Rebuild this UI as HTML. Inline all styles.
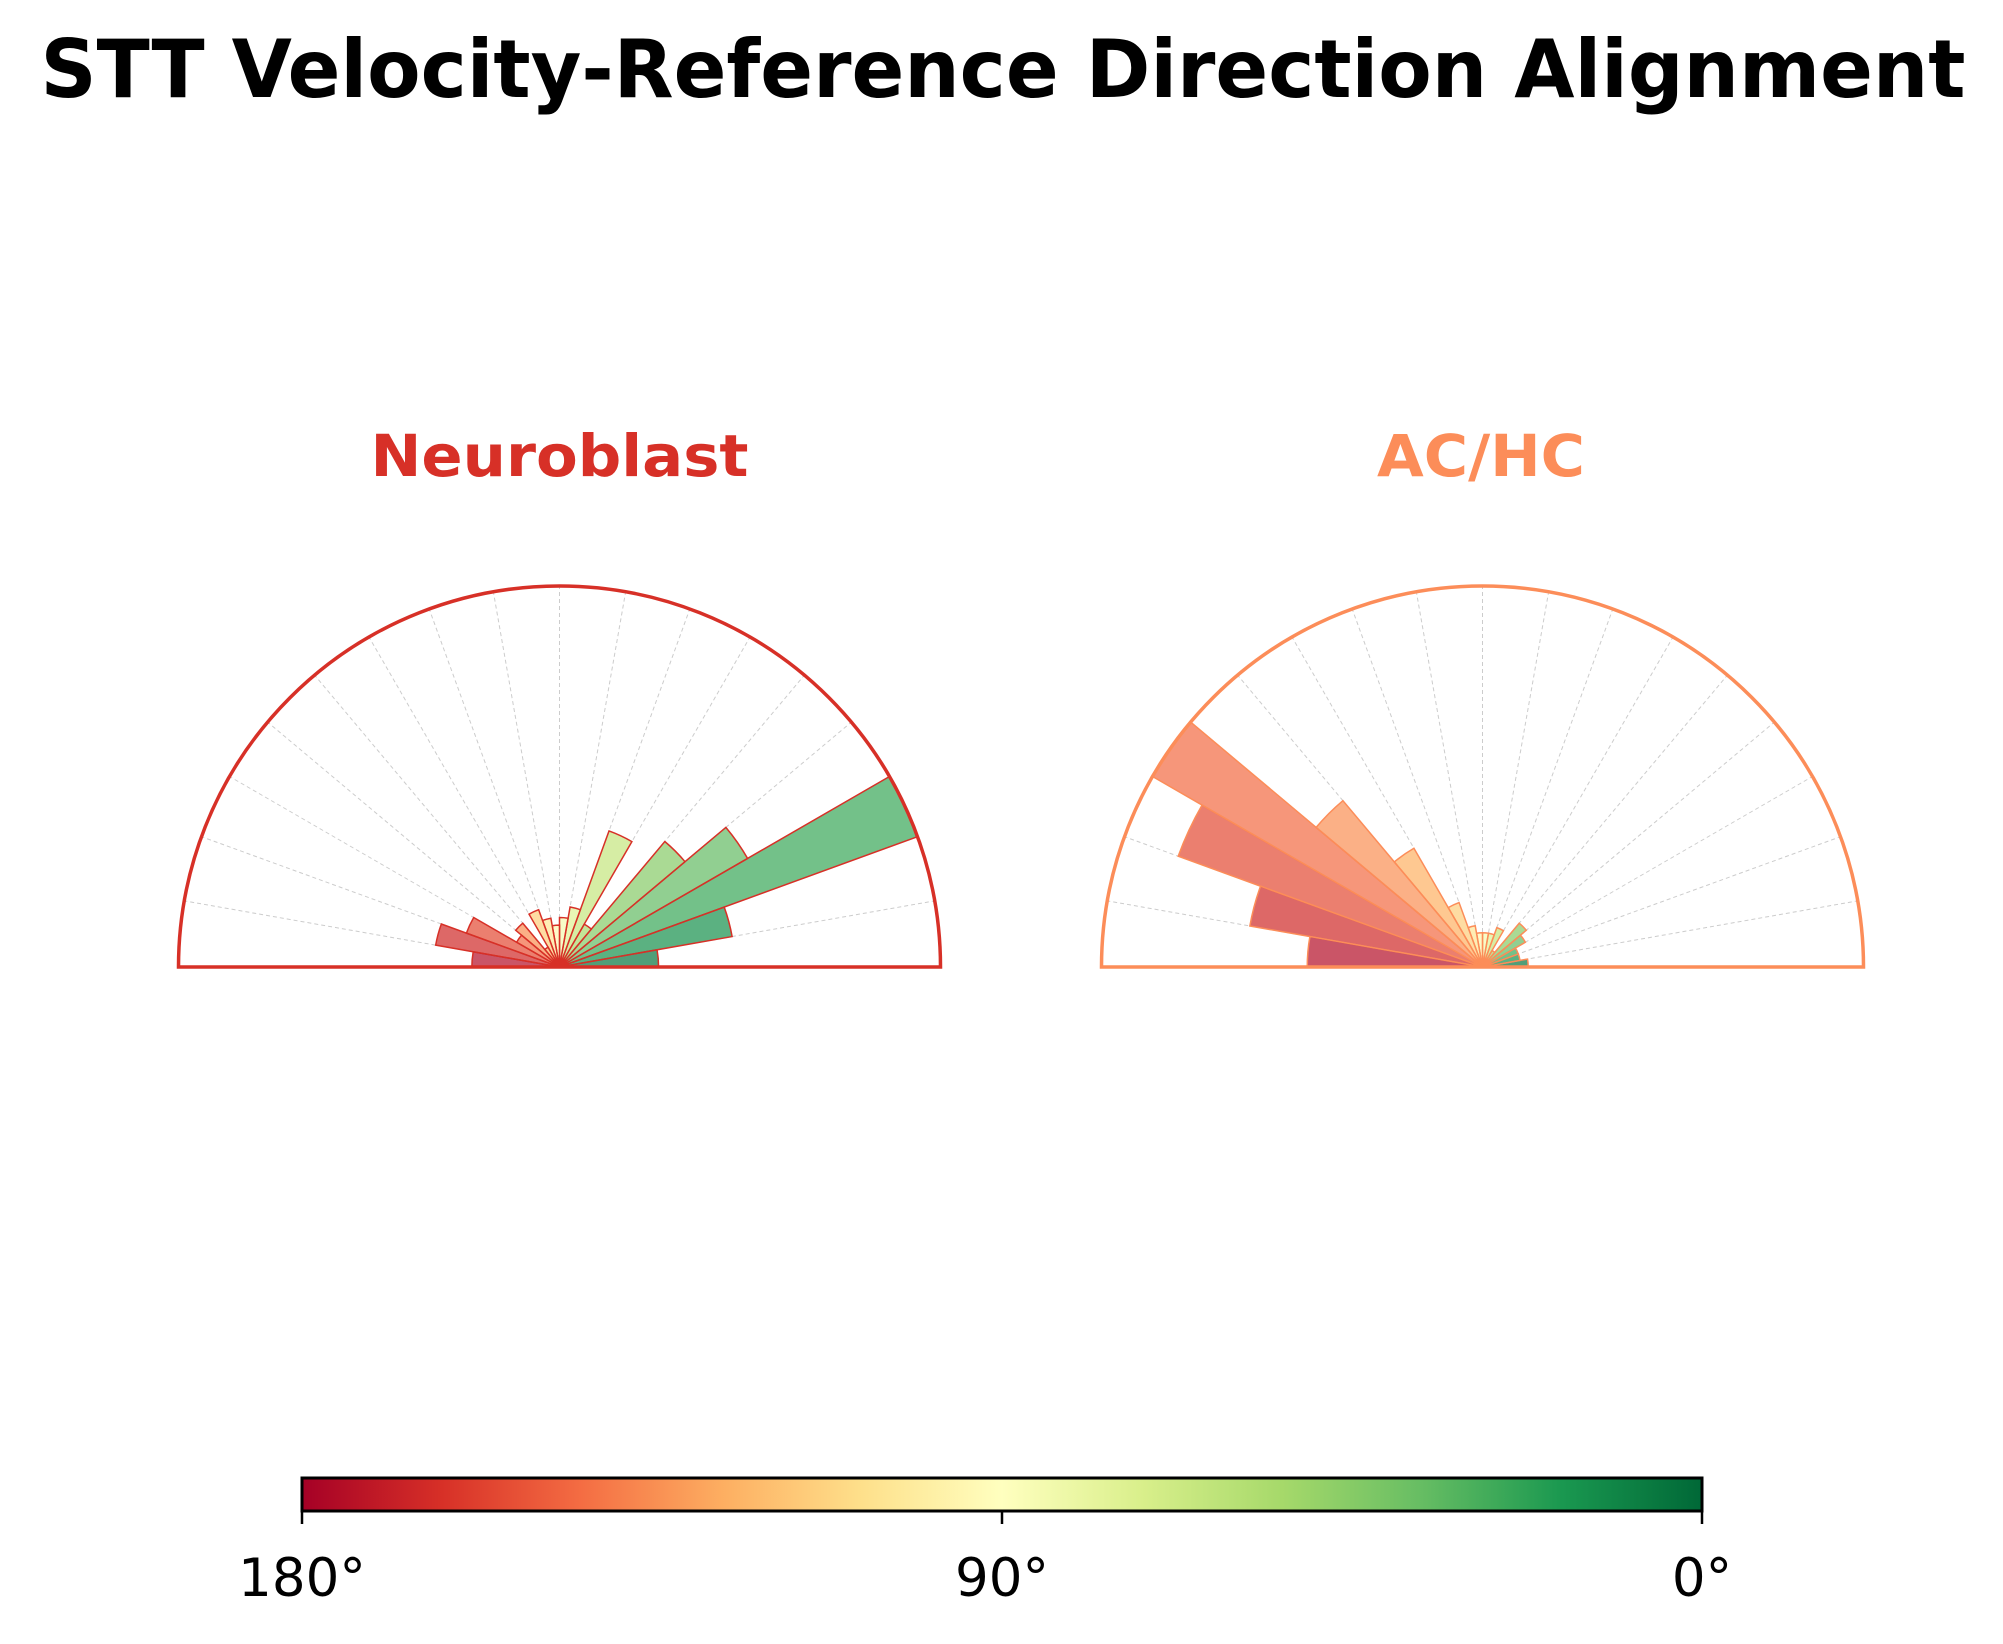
<!DOCTYPE html>
<html><head><meta charset="utf-8"><style>
html,body{margin:0;padding:0;background:#fff;}
svg{display:block;font-family:"DejaVu Sans","Liberation Sans",sans-serif;}
</style></head><body>
<svg id="chart" width="2003" height="1644" viewBox="0 0 2003 1644" xmlns="http://www.w3.org/2000/svg">
<defs>
<linearGradient id="cbgrad" x1="0" x2="1" y1="0" y2="0">
<stop offset="0" stop-color="#a50026"/><stop offset="0.1" stop-color="#d73027"/><stop offset="0.2" stop-color="#f46d43"/><stop offset="0.3" stop-color="#fdae61"/><stop offset="0.4" stop-color="#fee08b"/><stop offset="0.5" stop-color="#ffffbf"/><stop offset="0.6" stop-color="#d9ef8b"/><stop offset="0.7" stop-color="#a6d96a"/><stop offset="0.8" stop-color="#66bd63"/><stop offset="0.9" stop-color="#1a9850"/><stop offset="1" stop-color="#006837"/>
</linearGradient>
</defs>
<text x="1003" y="97" text-anchor="middle" font-size="80" font-weight="bold" textLength="1925" lengthAdjust="spacingAndGlyphs">STT Velocity-Reference Direction Alignment</text>
<text x="559.5" y="476" text-anchor="middle" font-size="58" font-weight="bold" fill="#d73027" textLength="378" lengthAdjust="spacingAndGlyphs">Neuroblast</text>
<text x="1481" y="476" text-anchor="middle" font-size="58" font-weight="bold" fill="#fc8d59" textLength="208" lengthAdjust="spacingAndGlyphs">AC/HC</text>
<g id="panels"></g>
<g>
<rect x="302" y="1478" width="1400" height="33" fill="url(#cbgrad)" stroke="#000" stroke-width="3"/>
<line x1="302" y1="1511" x2="302" y2="1524" stroke="#000" stroke-width="2.5"/>
<line x1="1002" y1="1511" x2="1002" y2="1524" stroke="#000" stroke-width="2.5"/>
<line x1="1702" y1="1511" x2="1702" y2="1524" stroke="#000" stroke-width="2.5"/>
<text x="302" y="1596" text-anchor="middle" font-size="53">180°</text>
<text x="1002" y="1596" text-anchor="middle" font-size="53">90°</text>
<text x="1702" y="1596" text-anchor="middle" font-size="53">0°</text>
</g>
</svg>
<script>
// bin edges in degrees (0 = aligned, right side)
const binStarts = [0,10,20,30,40,50,60,70,80,90,100,110,120,130,140,150,160,170];
// relative frequencies (percent of max) per bin
const neuroblastValues = [26,46,100,57,43,13,38,16,13,11,13,16,6,15,13,26,33,23];
const achcValues = [12,10,10,13,15,5,11,9,9,9,11,18,36,57,100,85,62,46];
const gridAngles = [10,20,30,40,50,60,70,80,90,100,110,120,130,140,150,160,170];

const stops = [[165,0,38],[215,48,39],[244,109,67],[253,174,97],[254,224,139],[255,255,191],[217,239,139],[166,217,106],[102,189,99],[26,152,80],[0,104,55]];
function rdylgn(t){t=Math.max(0,Math.min(1,t));const p=t*10;const i=Math.min(9,Math.floor(p));const f=p-i;
 const a=stops[i],b=stops[i+1];return 'rgb('+a.map((v,k)=>Math.round(v+(b[k]-v)*f)).join(',')+')';}

const R=381, CY=967;
const NS='http://www.w3.org/2000/svg';
const panels=document.getElementById('panels');
function px(cx,ang,r){const a=ang*Math.PI/180;return [cx+r*Math.cos(a),CY-r*Math.sin(a)];}
function rScale(v){return v/100*R;}

function drawPanel(cx,values,edge,name){
 const g=document.createElementNS(NS,'g');
 
 
 panels.appendChild(g);
 gridAngles.forEach(a=>{
  const l=document.createElementNS(NS,'line');
  const [x,y]=px(cx,a,R);
  l.setAttribute('x1',cx);l.setAttribute('y1',CY);l.setAttribute('x2',x);l.setAttribute('y2',y);
  l.setAttribute('stroke','#cccccc');l.setAttribute('stroke-width','1');l.setAttribute('stroke-dasharray','4,3');
  
  
  g.appendChild(l);
 });
 binStarts.forEach((s,i)=>{
  const r=rScale(values[i]);const e=s+10;
  const [x1,y1]=px(cx,s,r),[x2,y2]=px(cx,e,r);
  const p=document.createElementNS(NS,'path');
  p.setAttribute('d',`M${cx},${CY} L${x1},${y1} A${r},${r} 0 0 0 ${x2},${y2} Z`);
  p.setAttribute('fill',rdylgn(1-(s+5)/180));
  p.setAttribute('fill-opacity','0.7');
  p.setAttribute('stroke',edge);p.setAttribute('stroke-width','1.5');
  
  
  g.appendChild(p);
 });
 const o=document.createElementNS(NS,'path');
 o.setAttribute('d',`M${cx-R},${CY} A${R},${R} 0 0 1 ${cx+R},${CY} Z`);
 o.setAttribute('fill','none');o.setAttribute('stroke',edge);o.setAttribute('stroke-width','3.5');
 
 
 g.appendChild(o);
}
drawPanel(559.5,neuroblastValues,'#d73027','neuroblast');
drawPanel(1482.5,achcValues,'#fc8d59','achc');
</script>
</body></html>
